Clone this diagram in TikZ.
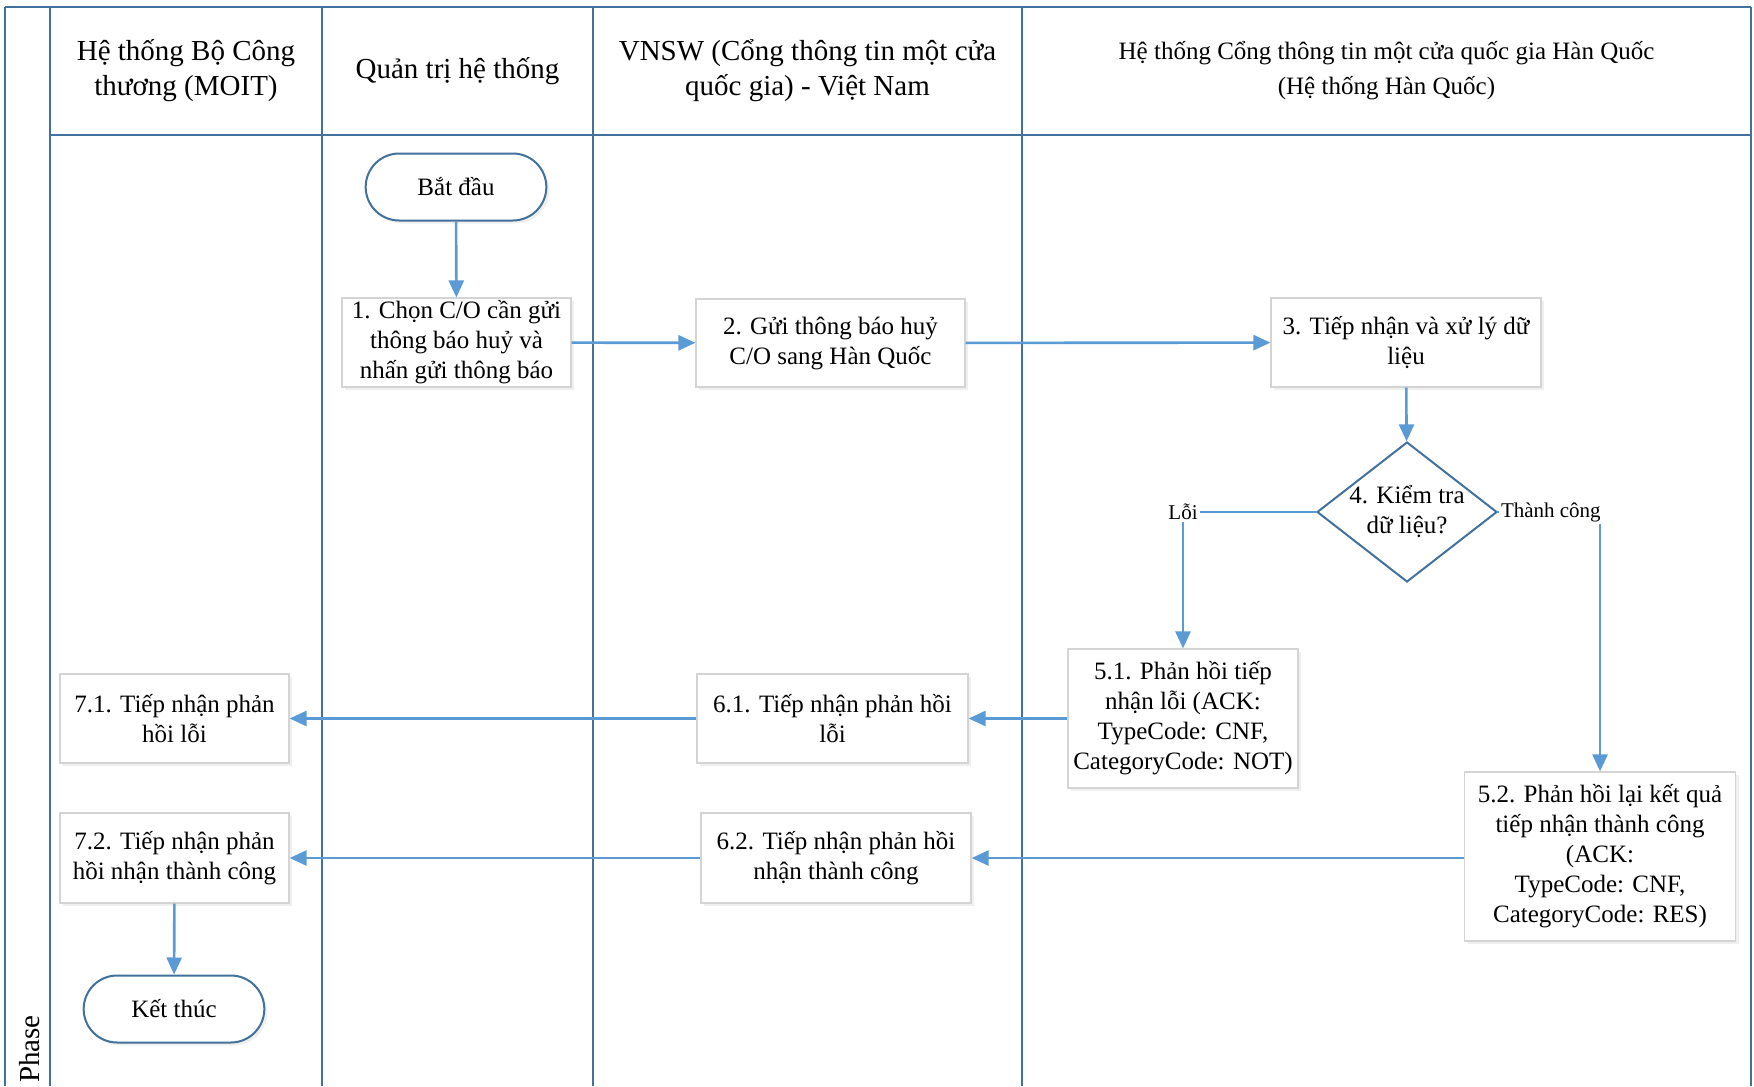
\documentclass[tikz,border=0pt]{standalone}
\usepackage{fontspec}
\setmainfont{Liberation Serif}
\usetikzlibrary{arrows.meta,shapes.geometric,shapes.misc,shadows,calc}
\definecolor{laneblue}{RGB}{65,113,156}
\definecolor{arrowblue}{RGB}{91,155,213}
\definecolor{boxgray}{RGB}{212,212,212}
\begin{document}
\begin{tikzpicture}[x=0.5pt,y=-0.5pt,
  lane/.style={draw=laneblue,line width=1.2pt},
  hdr/.style={align=center,font=\fontsize{14.5}{17.5}\selectfont},
  hdrsmall/.style={align=center,font=\fontsize{12.5}{17.5}\selectfont},
  proc/.style={draw=boxgray,fill=white,line width=0.6pt,align=center,
    font=\fontsize{12.5}{15}\selectfont,inner sep=0pt,
    drop shadow={opacity=0.12,shadow xshift=1.5pt,shadow yshift=-1.5pt}},
  term/.style={rounded rectangle,draw=laneblue,fill=white,line width=1pt,
    font=\fontsize{12.5}{15}\selectfont,minimum width=97pt,minimum height=33.5pt,
    drop shadow={opacity=0.12,shadow xshift=1.5pt,shadow yshift=-1.5pt}},
  decision/.style={diamond,draw=laneblue,fill=white,line width=1pt,align=center,
    font=\fontsize{12.5}{15}\selectfont,minimum width=90pt,minimum height=70pt,
    aspect=1.286,inner sep=-1pt},
  flow/.style={draw=arrowblue,line width=1.3pt,-{Triangle[length=8.5pt,width=7.5pt]}},
  lbl/.style={fill=white,inner sep=1pt,font=\fontsize{10.5}{12}\selectfont}
]
\useasboundingbox (0,0) rectangle (1754,1086);
\fill[white] (0,0) rectangle (1754,1086);

% swimlane frame
\draw[lane] (5,7) -- (1751,7);
\draw[lane] (5,7) -- (5,1086);
\draw[lane] (50,7) -- (50,1086);
\draw[lane] (322,7) -- (322,1086);
\draw[lane] (593,7) -- (593,1086);
\draw[lane] (1022,7) -- (1022,1086);
\draw[lane] (1751,7) -- (1751,1086);
\draw[lane] (50,135) -- (1751,135);

% headers
\node[hdr] (h1) at (186,71) {Hệ thống Bộ Công\\thương (MOIT)};
\node[hdr] (h2) at (457.5,71) {Quản trị hệ thống};
\node[hdr] (h3) at (807.5,71) {VNSW (Cổng thông tin một cửa\\quốc gia) - Việt Nam};
\node[hdrsmall] (h4) at (1386.5,71) {Hệ thống Cổng thông tin một cửa quốc gia Hàn Quốc\\(Hệ thống Hàn Quốc)};
\node[rotate=90,font=\fontsize{14.5}{17}\selectfont] (phase) at (30,1049) {Phase};

% nodes
\node[term] (start) at (456,187) {Bắt đầu};
\node[proc,minimum width=114.5pt,minimum height=44.5pt] (b1) at (456.5,342.5)
  {1. Chọn C/O cần gửi\\thông báo huỷ và\\nhấn gửi thông báo};
\node[proc,minimum width=134.5pt,minimum height=44pt] (b2) at (830.5,343)
  {2. Gửi thông báo huỷ\\C/O sang Hàn Quốc};
\node[proc,minimum width=135pt,minimum height=44.5pt] (b3) at (1406,342.5)
  {3. Tiếp nhận và xử lý dữ\\liệu};
\node[decision] (d4) at (1407,512) {4. Kiểm tra\\dữ liệu?};
\node[proc,minimum width=115pt,minimum height=69.5pt] (b51) at (1183,718.5)
  {5.1. Phản hồi tiếp\\nhận lỗi (ACK:\\TypeCode: CNF,\\CategoryCode: NOT)};
\node[proc,minimum width=135.5pt,minimum height=84.5pt] (b52) at (1600,856.5)
  {5.2. Phản hồi lại kết quả\\tiếp nhận thành công\\(ACK:\\TypeCode: CNF,\\CategoryCode: RES)};
\node[proc,minimum width=135.5pt,minimum height=44.5pt] (b61) at (832.5,718.5)
  {6.1. Tiếp nhận phản hồi\\lỗi};
\node[proc,minimum width=135pt,minimum height=45pt] (b62) at (836,858)
  {6.2. Tiếp nhận phản hồi\\nhận thành công};
\node[proc,minimum width=114.5pt,minimum height=44.5pt] (b71) at (174.5,718.5)
  {7.1. Tiếp nhận phản\\hồi lỗi};
\node[proc,minimum width=114.5pt,minimum height=45pt] (b72) at (174.5,858)
  {7.2. Tiếp nhận phản\\hồi nhận thành công};
\node[term] (end) at (174,1009) {Kết thúc};

% connectors
\draw[flow] (start) -- (b1);
\draw[flow] (b1) -- (b2);
\draw[flow] (b2) -- (b3);
\draw[flow] (b3) -- (d4);
\draw[flow] (d4.west) -| node[lbl,pos=0.5] {Lỗi} (b51.north);
\draw[flow] (d4.east) -| node[lbl,pos=0.5,anchor=east,xshift=2pt] {Thành công} (b52.north);
\draw[flow] (b51.west |- b61.east) -- (b61.east);
\draw[flow] (b61.west) -- (b71.east);
\draw[flow] (b52.west |- b62.east) -- (b62.east);
\draw[flow] (b62.west) -- (b72.east);
\draw[flow] (b72) -- (end);
\end{tikzpicture}
\end{document}
